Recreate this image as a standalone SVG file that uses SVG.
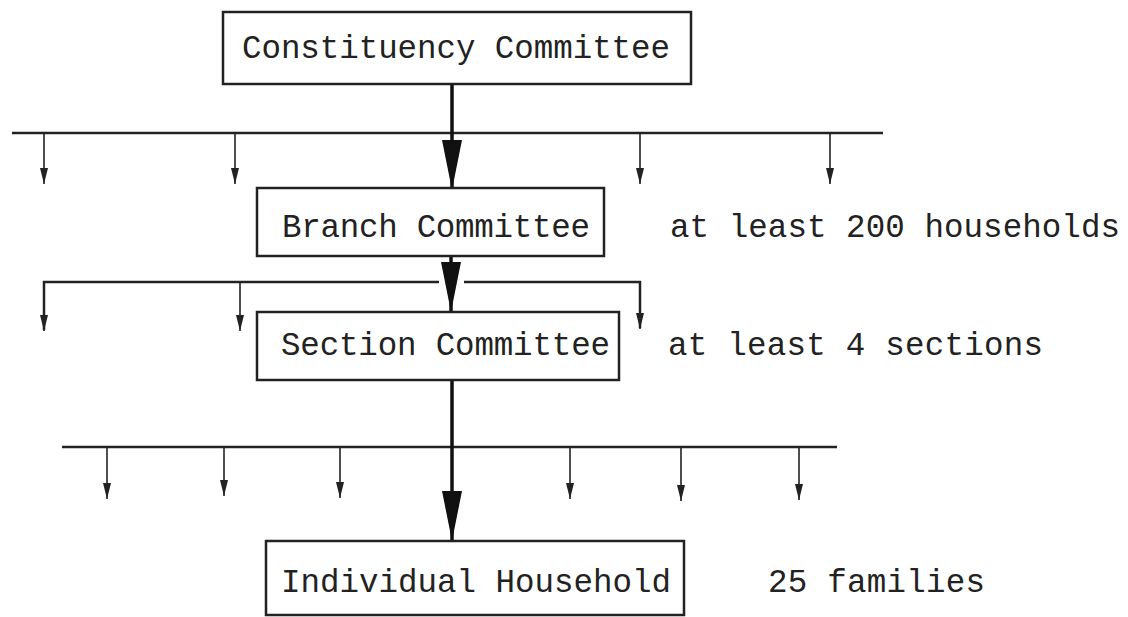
<svg xmlns="http://www.w3.org/2000/svg" width="1128" height="617" viewBox="0 0 1128 617">
<style>
.box{fill:#fff;stroke:#222;stroke-width:2.5}
.t{font-family:"Liberation Mono","Courier New",monospace;font-size:32.5px;fill:#222}
.bus{stroke:#222;stroke-width:2.5;fill:none}
.drop{stroke:#222;stroke-width:1.6;fill:none}
.main{stroke:#111;stroke-width:3.5;fill:none}
</style>
<defs>
<marker id="big" markerUnits="userSpaceOnUse" markerWidth="50" markerHeight="20" viewBox="0 0 50 20" refX="50" refY="10" orient="auto"><path d="M0,0 L50,10 L0,20 z" fill="#111"/></marker>
<marker id="small" markerUnits="userSpaceOnUse" markerWidth="16" markerHeight="8" viewBox="0 0 16 8" refX="16" refY="4" orient="auto"><path d="M0,0 L16,4 L0,8 z" fill="#222"/></marker>
</defs>
<rect width="1128" height="617" fill="#fff"/>
<g id="connectors">
<line class="bus" x1="12" y1="133" x2="883" y2="133"/>
<line class="drop" x1="44" y1="133" x2="44" y2="184" marker-end="url(#small)"/>
<line class="drop" x1="235" y1="133" x2="235" y2="184" marker-end="url(#small)"/>
<line class="drop" x1="640" y1="133" x2="640" y2="184" marker-end="url(#small)"/>
<line class="drop" x1="830" y1="133" x2="830" y2="184" marker-end="url(#small)"/>
<line class="main" x1="452" y1="84" x2="452" y2="190" marker-end="url(#big)"/>
<polyline class="bus" points="44,330 44,282 439,282"/>
<polyline class="bus" points="464,282 640,282 640,328"/>
<line class="drop" x1="44" y1="282" x2="44" y2="331" marker-end="url(#small)"/>
<line class="drop" x1="240" y1="282" x2="240" y2="331" marker-end="url(#small)"/>
<line class="drop" x1="640" y1="282" x2="640" y2="329" marker-end="url(#small)"/>
<line class="main" x1="451" y1="256" x2="451" y2="312" marker-end="url(#big)"/>
<line class="bus" x1="62" y1="447" x2="837" y2="447"/>
<line class="drop" x1="107" y1="447" x2="107" y2="499" marker-end="url(#small)"/>
<line class="drop" x1="224" y1="447" x2="224" y2="496" marker-end="url(#small)"/>
<line class="drop" x1="340" y1="447" x2="340" y2="498" marker-end="url(#small)"/>
<line class="drop" x1="570" y1="447" x2="570" y2="499" marker-end="url(#small)"/>
<line class="drop" x1="681" y1="447" x2="681" y2="501" marker-end="url(#small)"/>
<line class="drop" x1="799" y1="447" x2="799" y2="500" marker-end="url(#small)"/>
<line class="main" x1="452" y1="380" x2="452" y2="541" marker-end="url(#big)"/>
</g>
<g id="constituency">
<rect class="box" x="223" y="12" width="468" height="72"/>
<text class="t" x="242" y="58" textLength="428">Constituency Committee</text>
</g>
<g id="branch">
<rect class="box" x="257" y="188" width="347" height="68"/>
<text class="t" x="282" y="237" textLength="308">Branch Committee</text>
</g>
<g id="branch-note">
<text class="t" x="670" y="237" textLength="450">at least 200 households</text>
</g>
<g id="section">
<rect class="box" x="257" y="312" width="362" height="68"/>
<text class="t" x="281" y="355" textLength="329">Section Committee</text>
</g>
<g id="section-note">
<text class="t" x="668" y="355" textLength="375">at least 4 sections</text>
</g>
<g id="household">
<rect class="box" x="266" y="541" width="418" height="74"/>
<text class="t" x="281" y="592" textLength="390">Individual Household</text>
</g>
<g id="household-note">
<text class="t" x="768" y="592" textLength="217">25 families</text>
</g>
</svg>
